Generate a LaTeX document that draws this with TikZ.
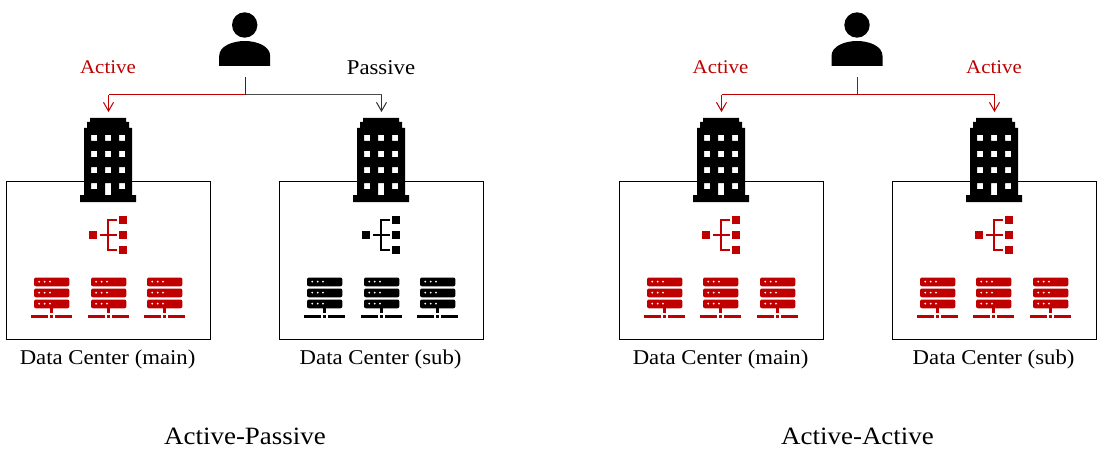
\documentclass[tikz,border=0pt]{standalone}
\usepackage{fontspec}
\setmainfont[FakeStretch=1.08]{Liberation Serif}
\usetikzlibrary{arrows.meta}
\definecolor{dcred}{HTML}{C00000}
\definecolor{dcdark}{HTML}{8A0000}
\tikzset{
  x=0.75pt, y=-0.75pt,
  dcbox/.style={draw=black, line width=0.75pt, fill=white, outer sep=0pt, inner sep=0pt},
  link/.style={line width=0.75pt, line cap=butt},
  tiplink/.style={line width=0.75pt, -{Straight Barb[length=6.5pt,width=7.5pt,line width=0.75pt]}},
  lab/.style={font=\fontsize{15.8}{17}\selectfont, inner sep=0pt, anchor=center},
  actlab/.style={font=\fontsize{14.5}{16}\selectfont, inner sep=0pt, anchor=center},
  title/.style={font=\fontsize{18.7}{20}\selectfont, inner sep=0pt, anchor=center},
  pics/person/.style={code={
    \fill[black] (0,-52) circle (12.7);
    \fill[black] (-25.5,-11) -- (-25.5,-21)
      .. controls (-25.5,-31) and (-12,-36) .. (0,-36)
      .. controls (12,-36) and (25.5,-31) .. (25.5,-21)
      -- (25.5,-11) -- cycle;
  }},
  pics/building/.style={code={
    \fill[black,even odd rule]
      (-18,0) -- (18,0) -- (18,4) -- (21,4) -- (21,10) -- (24,10) -- (24,77) -- (28,77) -- (28,84)
      -- (-28,84) -- (-28,77) -- (-24,77) -- (-24,10) -- (-21,10) -- (-21,4) -- (-18,4) -- cycle
      (-17,17) rectangle (-11,23) (-3,17) rectangle (3,23) (11,17) rectangle (17,23)
      (-17,33) rectangle (-11,39) (-3,33) rectangle (3,39) (11,33) rectangle (17,39)
      (-17,49) rectangle (-11,55) (-3,49) rectangle (3,55) (11,49) rectangle (17,55)
      (-17,65) rectangle (-11,71) (-3,65) rectangle (3,77) (11,65) rectangle (17,71);
  }},
  pics/treeicon/.style={code={
    \fill[#1] (-18.7,-4) rectangle (-10.7,4);
    \fill[#1] (11.3,-19) rectangle (19.3,-11);
    \fill[#1] (11.3,-4) rectangle (19.3,4);
    \fill[#1] (11.3,11) rectangle (19.3,19);
    \draw[#1,line width=1.5pt] (-8,0) -- (9,0) (9,-15) -- (0,-15) -- (0,15) -- (9,15);
  }},
  pics/server/.style={code={
    \foreach \ya in {0,11,22}{
      \fill[#1,rounded corners=1.5pt] (-17.7,\ya) rectangle (17.7,\ya+8.8);
      \foreach \xa in {-12.5,-7,-1.7}
        \fill[white] (\xa,\ya+4.2) circle (1);
    }
    \fill[#1] (-1.7,30) rectangle (1.7,35);
    \fill[#1] (-20.5,37.3) rectangle (-3.5,40.7);
    \fill[#1] (-1.7,37.3) rectangle (1.7,40.7);
    \fill[#1] (3.5,37.3) rectangle (20.5,40.7);
  }}
}
\newcommand{\datacenter}[5]{% name, offset, colour, label, middle server x
  \node[dcbox, minimum width=153pt, minimum height=118.5pt, anchor=north west] (#1box) at (#2+6.5,181.5) {};
  \pic at (#2+108,118) {building};
  \pic at (#2+108,235) {treeicon=#3};
  \pic at (#2+51.7,277.5) {server=#3};
  \pic at (#2+#5,277.5) {server=#3};
  \pic at (#2+164.7,277.5) {server=#3};
  \coordinate (#1top) at (#2+108.5,112);
  \node[lab] (#1label) at (#2+107.6,359) {#4};
}
\begin{document}
\begin{tikzpicture}
\useasboundingbox (0,0) rectangle (1104,460);
\fill[white] (0,0) rectangle (1104,460);

% left: active-passive
\datacenter{a}{0}{dcred}{Data Center (main)}{108.7}
\datacenter{b}{273}{black}{Data Center (sub)}{108.7}
\pic at (244.7,77) {person};
\coordinate (ua) at (245.3,77);
\coordinate (ja) at (245.3,95);
\draw[link,draw=dcred] (ja) -- (ja -| atop);
\draw[link,draw=black!70] (ja) -- (ja -| btop);
\draw[tiplink,draw=dcred] (ja -| atop) -- (atop);
\draw[tiplink,draw=black!80] (ja -| btop) -- (btop);
\draw[link,draw=dcdark] (ua) -- (ja);
\node[actlab,text=dcred] (la) at (108,67.5) {Active};
\node[lab,text=black] (lb) at (381,68) {Passive};
\node[title] (ta) at (245,436) {Active-Passive};

% right: active-active
\datacenter{c}{613}{dcred}{Data Center (main)}{107.7}
\datacenter{d}{886}{dcred}{Data Center (sub)}{107.7}
\pic at (857,77) {person};
\coordinate (ub) at (857.5,77);
\coordinate (jb) at (857.5,95);
\draw[link,draw=dcred] (jb) -- (jb -| ctop);
\draw[link,draw=dcred] (jb) -- (jb -| dtop);
\draw[tiplink,draw=dcred] (jb -| ctop) -- (ctop);
\draw[tiplink,draw=dcred] (jb -| dtop) -- (dtop);
\draw[link,draw=dcred] (ub) -- (jb);
\node[actlab,text=dcred] (lc) at (720.5,67.5) {Active};
\node[actlab,text=dcred] (ld) at (994,67.5) {Active};
\node[title] (tb) at (857.5,436) {Active-Active};
\end{tikzpicture}
\end{document}
